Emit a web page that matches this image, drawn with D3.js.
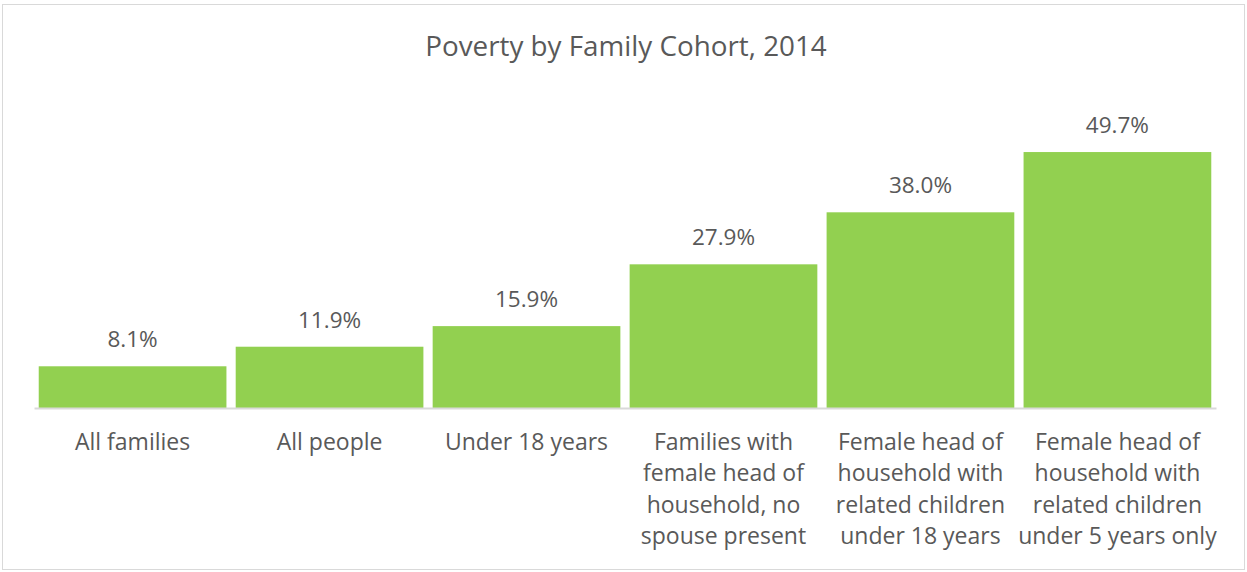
<!DOCTYPE html>
<html>
<head>
<meta charset="utf-8">
<script src="https://d3js.org/d3.v7.min.js"></script>
<style>
body { margin: 0; background: #fff; }
svg text { font-family: "Open Sans", sans-serif; }
.title { font-size: 27.8px; fill: #595959; }
.value { font-size: 22.5px; fill: #595959; }
.x.axis text { font-size: 23px; fill: #595959; }
</style>
</head>
<body>
<div id="chart"></div>
<script>
// categories (each one split into the lines shown under the bar)
var categories = [
  ["All families"],
  ["All people"],
  ["Under 18 years"],
  ["Families with", "female head of", "household, no", "spouse present"],
  ["Female head of", "household with", "related children", "under 18 years"],
  ["Female head of", "household with", "related children", "under 5 years only"]
];
var values = [8.1, 11.9, 15.9, 27.9, 38.0, 49.7];
var title = "Poverty by Family Cohort, 2014";

var width = 1247, height = 572;
var left = 34, right = 1216, baseline = 408;

var svg = d3.select("#chart").append("svg")
  .attr("width", width)
  .attr("height", height);

// chart frame
svg.append("rect")
  .attr("x", 2.5).attr("y", 4.5)
  .attr("width", 1242).attr("height", 565)
  .attr("fill", "none")
  .attr("stroke", "#d9d9d9");

svg.append("text")
  .attr("class", "title")
  .attr("x", 626).attr("y", 56)
  .attr("text-anchor", "middle")
  .text(title);

var keys = d3.range(categories.length);

var x = d3.scaleBand()
  .domain(keys)
  .range([left, right])
  .paddingInner(0.047)
  .paddingOuter(0.024);

var y = d3.scaleLinear()
  .domain([0, 55])
  .range([baseline, baseline - 55 * 5.15]);

svg.append("g")
  .selectAll("rect")
  .data(values).enter()
  .append("rect")
  .attr("x", (d, i) => x(i))
  .attr("y", d => y(d))
  .attr("width", x.bandwidth())
  .attr("height", d => y(0) - y(d))
  .attr("fill", "#92d050");

svg.append("g")
  .selectAll("text")
  .data(values).enter()
  .append("text")
  .attr("class", "value")
  .attr("x", (d, i) => x(i) + x.bandwidth() / 2)
  .attr("y", d => y(d) - 19)
  .attr("text-anchor", "middle")
  .text(d => d.toFixed(1) + "%");

// x axis with multi-line labels
var xAxis = d3.axisBottom(x).tickSize(0).tickFormat("");
var gx = svg.append("g")
  .attr("class", "x axis")
  .attr("transform", `translate(0, ${baseline})`)
  .call(xAxis);
gx.select(".domain")
  .attr("stroke", "#d9d9d9")
  .attr("stroke-width", 2);

gx.selectAll(".tick")
  .append("text")
  .attr("text-anchor", "middle")
  .selectAll("tspan")
  .data(d => categories[d]).enter()
  .append("tspan")
  .attr("x", 0)
  .attr("y", (d, i) => 42 + i * 31.4)
  .text(d => d);
</script>
</body>
</html>
